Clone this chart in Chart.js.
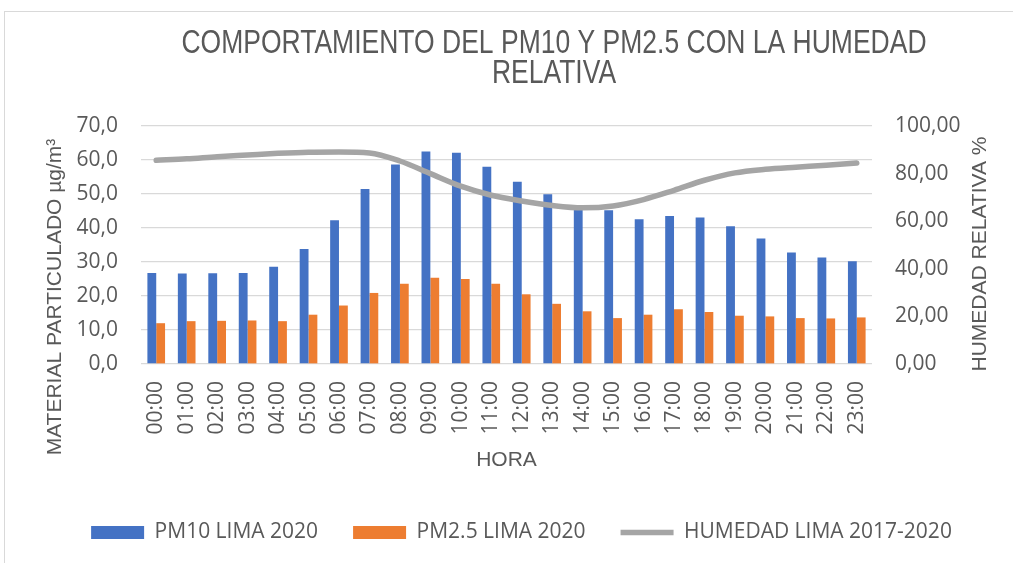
<!DOCTYPE html>
<html>
<head>
<meta charset="utf-8">
<script src="https://cdn.jsdelivr.net/npm/chart.js@4.4.1/dist/chart.umd.min.js"></script>
<style>
html,body{margin:0;padding:0;background:#ffffff;}
#wrap{width:1013px;height:563px;position:relative;}
</style>
</head>
<body>
<div id="wrap"><canvas id="c" width="1013" height="563"></canvas></div>
<script>
const hours = ['00:00','01:00','02:00','03:00','04:00','05:00','06:00','07:00','08:00','09:00','10:00','11:00','12:00','13:00','14:00','15:00','16:00','17:00','18:00','19:00','20:00','21:00','22:00','23:00'];
const pm10 = [26.8, 26.6, 26.7, 26.8, 28.6, 33.8, 42.3, 51.5, 58.7, 62.5, 62.1, 58.0, 53.6, 49.9, 45.4, 45.2, 42.6, 43.5, 43.1, 40.5, 36.9, 32.8, 31.3, 30.2];
const pm25 = [12.0, 12.6, 12.7, 12.8, 12.6, 14.5, 17.2, 20.9, 23.6, 25.4, 25.0, 23.6, 20.5, 17.7, 15.5, 13.5, 14.5, 16.1, 15.3, 14.2, 14.0, 13.5, 13.4, 13.7];
const humedad = [85.6, 86.2, 87.1, 87.8, 88.5, 89.0, 89.1, 88.7, 85.3, 80.0, 74.7, 70.9, 68.5, 66.6, 65.6, 66.4, 69.1, 73.0, 77.2, 80.3, 81.8, 82.7, 83.5, 84.5];
const seriesNames = ['PM10 LIMA 2020', 'PM2.5 LIMA 2020', 'HUMEDAD LIMA 2017-2020'];
const titleLines = ['COMPORTAMIENTO DEL PM10 Y PM2.5 CON LA HUMEDAD', 'RELATIVA'];
const xTitle = 'HORA';
const yLeftTitle = 'MATERIAL PARTICULADO µg/m³';
const yRightTitle = 'HUMEDAD RELATIVA %';

const TXT = '#595959';
const tickFont = {family: 'Open Sans', size: 21};

const decor = {
  id: 'decor',
  beforeDraw(chart) {
    const ctx = chart.ctx;
    ctx.save();
    ctx.fillStyle = '#ffffff';
    ctx.fillRect(0, 0, chart.width, chart.height);
    ctx.strokeStyle = '#D9D9D9';
    ctx.lineWidth = 1;
    ctx.strokeRect(4.5, 11.5, chart.width + 20, chart.height + 20);
    ctx.restore();
  },
  afterDraw(chart) {
    const ctx = chart.ctx;
    const a = chart.chartArea;
    ctx.save();
    ctx.fillStyle = TXT;
    ctx.textAlign = 'center';
    ctx.textBaseline = 'middle';
    ctx.font = '26.5px "Liberation Sans"';
    const tx = 554;
    [44, 74].forEach((y, i) => {
      ctx.save();
      ctx.translate(tx, y);
      ctx.scale(1, 1.22);
      ctx.fillText(titleLines[i], 0, 0);
      ctx.restore();
    });
    ctx.font = '21px "Liberation Sans"';
    ctx.fillText(xTitle, (a.left + a.right) / 2, 460);
    ctx.save();
    ctx.translate(55, 297);
    ctx.rotate(-Math.PI / 2);
    ctx.fillText(yLeftTitle, 0, 0);
    ctx.restore();
    ctx.save();
    ctx.translate(980, 254);
    ctx.rotate(-Math.PI / 2);
    ctx.fillText(yRightTitle, 0, 0);
    ctx.restore();
    ctx.restore();
  }
};

new Chart(document.getElementById('c').getContext('2d'), {
  type: 'bar',
  data: {
    labels: hours,
    datasets: [
      {label: seriesNames[0], data: pm10, backgroundColor: '#4472C4', borderWidth: 0, yAxisID: 'y', order: 1, pointStyle: 'rect', categoryPercentage: 0.58, barPercentage: 1},
      {label: seriesNames[1], data: pm25, backgroundColor: '#ED7D31', borderWidth: 0, yAxisID: 'y', order: 1, pointStyle: 'rect', categoryPercentage: 0.58, barPercentage: 1},
      {type: 'line', label: seriesNames[2], data: humedad, borderColor: '#A5A5A5', backgroundColor: '#A5A5A5', borderWidth: 5.5, borderCapStyle: 'round', borderJoinStyle: 'round', pointRadius: 0, pointHoverRadius: 0, pointStyle: 'line', cubicInterpolationMode: 'monotone', yAxisID: 'y1', order: 0}
    ]
  },
  options: {
    responsive: false,
    animation: false,
    devicePixelRatio: 1,
    layout: {padding: {left: 30, right: 0, top: 126, bottom: 10}},
    plugins: {
      legend: {
        position: 'bottom',
        labels: {
          usePointStyle: true, pointStyleWidth: 53, boxHeight: 13, padding: 35,
          color: TXT, font: {family: 'Open Sans', size: 21},
          sort: (p, q) => p.datasetIndex - q.datasetIndex
        }
      },
      tooltip: {enabled: false},
      title: {display: false}
    },
    scales: {
      x: {
        grid: {display: false, drawTicks: false},
        border: {display: false},
        ticks: {color: TXT, font: tickFont, maxRotation: 90, minRotation: 90, padding: 17, autoSkip: false},
        afterFit(s) { s.height = 123; }
      },
      y: {
        position: 'left', min: 0, max: 70,
        grid: {color: '#D9D9D9', lineWidth: 1.3, drawTicks: false},
        border: {display: false},
        ticks: {stepSize: 10, padding: 23, color: TXT, font: tickFont, callback: v => v.toFixed(1).replace('.', ',')},
        afterFit(s) { s.width = 111; }
      },
      y1: {
        position: 'right', min: 0, max: 100,
        grid: {display: false, drawTicks: false},
        border: {display: false},
        ticks: {stepSize: 20, padding: 23, color: TXT, font: tickFont, callback: v => v.toFixed(2).replace('.', ',')},
        afterFit(s) { s.width = 141; }
      }
    }
  },
  plugins: [decor]
});
</script>
</body>
</html>
